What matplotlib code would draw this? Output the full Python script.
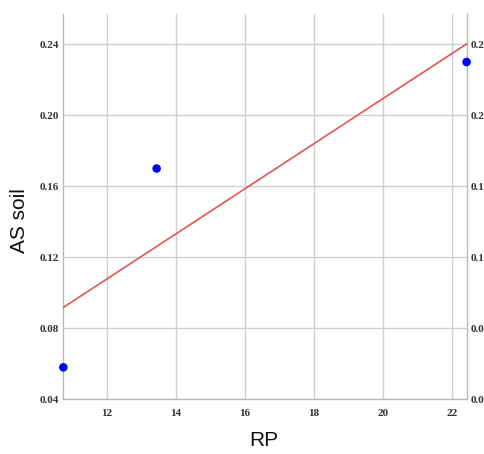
import matplotlib
matplotlib.use("Agg")
import matplotlib.pyplot as plt
from matplotlib.font_manager import FontProperties
import numpy as np

# data
rp = [10.75, 13.45, 22.42]
as_soil = [0.058, 0.170, 0.230]
x_ticks = [12, 14, 16, 18, 20, 22]
y_ticks = [0.04, 0.08, 0.12, 0.16, 0.20, 0.24]


def main():
    fig = plt.figure(figsize=(4.85, 4.54), dpi=100)
    ax = fig.add_axes([0.1306, 0.1205, 0.962 - 0.1306, 0.969 - 0.1205])

    # least squares line through the points
    slope, icpt = np.polyfit(rp, as_soil, 1)
    xs = np.array([min(rp), max(rp)])
    ax.plot(xs, slope * xs + icpt, color="#e05555", linewidth=1.2, zorder=3)

    ax.scatter(rp, as_soil, s=38, color="#0000ff", zorder=4, clip_on=False,
               edgecolors="none")

    ax.set_xlim(10.75, 22.42)
    ax.set_ylim(0.04, 0.257)
    ax.set_xticks(x_ticks)
    ax.set_yticks(y_ticks)
    ax.set_yticklabels([f"{v:.2f}" for v in y_ticks])
    ax.grid(True, color="#cfcfcf", linewidth=1.0)
    ax.set_axisbelow(True)

    for side in ["left", "bottom", "right"]:
        ax.spines[side].set_color("#b8b8b8")
        ax.spines[side].set_linewidth(1.0)
    ax.spines["top"].set_visible(False)

    tick_font = FontProperties(family="Liberation Serif", weight="bold", size=8)
    ax.tick_params(axis="both", length=0, colors="#333333")
    ax.tick_params(axis="y", pad=3, labelright=True)
    ax.tick_params(axis="x", pad=7)
    for t in ax.xaxis.get_major_ticks() + ax.yaxis.get_major_ticks():
        t.label1.set_fontproperties(tick_font)
        t.label2.set_fontproperties(tick_font)

    # the right-hand labels run off the edge, as in the source image
    fig.text(20 / 485, 1 - 221 / 454, "AS soil", rotation=90, ha="center",
             va="center", fontsize=15, family="Liberation Sans", color="#111111")
    fig.text(264 / 485, 1 - 440 / 454, "RP", ha="center", va="center",
             fontsize=15, family="Liberation Sans", color="#111111")

    fig.savefig("out.png", dpi=100)


if __name__ == "__main__":
    main()
